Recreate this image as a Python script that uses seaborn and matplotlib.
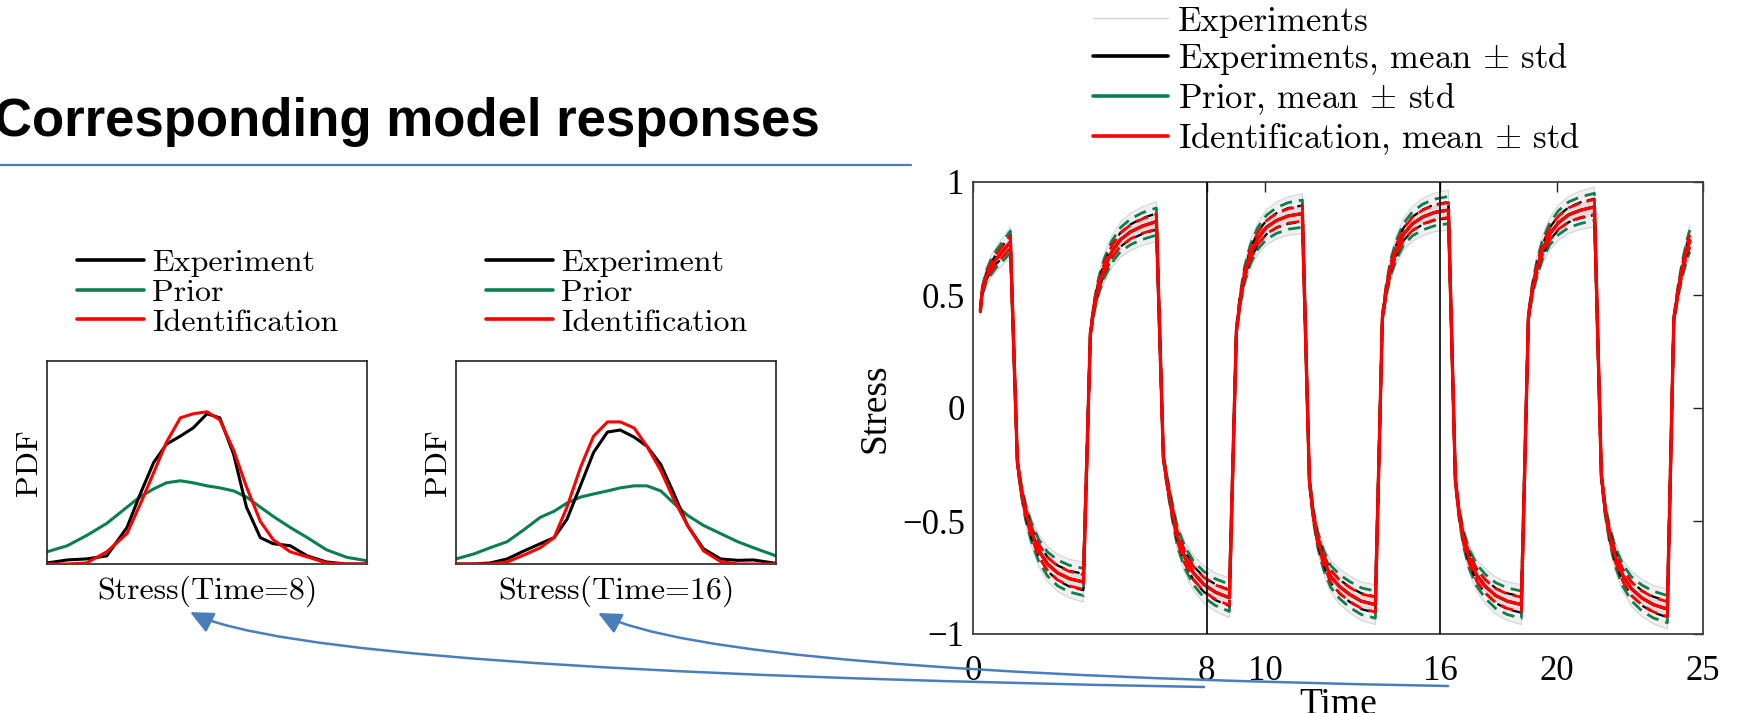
import numpy as np
import matplotlib
matplotlib.use("Agg")
import matplotlib.pyplot as plt
from matplotlib.lines import Line2D
import seaborn as sns

# ------------------------------------------------------------------
# Cyclic stress history: knots of the mean response (shared by the
# experiments, the prior and the identified model, which overlap).
# ------------------------------------------------------------------
time_pts = [
    0.25, 0.32, 0.45, 0.60, 0.80, 1.00, 1.28,
    1.52, 1.65, 1.80, 2.00, 2.25, 2.55, 2.90, 3.30, 3.78,
    4.02, 4.15, 4.30, 4.50, 4.75, 5.05, 5.40, 5.80, 6.28,
    6.52, 6.65, 6.80, 7.00, 7.25, 7.55, 7.90, 8.30, 8.78,
    9.02, 9.15, 9.30, 9.50, 9.75, 10.05, 10.40, 10.80, 11.28,
    11.52, 11.65, 11.80, 12.00, 12.25, 12.55, 12.90, 13.30, 13.78,
    14.02, 14.15, 14.30, 14.50, 14.75, 15.05, 15.40, 15.80, 16.28,
    16.52, 16.65, 16.80, 17.00, 17.25, 17.55, 17.90, 18.30, 18.78,
    19.02, 19.15, 19.30, 19.50, 19.75, 20.05, 20.40, 20.80, 21.28,
    21.52, 21.65, 21.80, 22.00, 22.25, 22.55, 22.90, 23.30, 23.78,
    24.00, 24.15, 24.30, 24.45, 24.55,
]
stress_mean = [
    0.43, 0.52, 0.58, 0.62, 0.66, 0.69, 0.735,
    -0.24, -0.36, -0.46, -0.55, -0.63, -0.69, -0.73, -0.755, -0.77,
    0.33, 0.45, 0.54, 0.62, 0.69, 0.745, 0.78, 0.805, 0.825,
    -0.22, -0.33, -0.44, -0.57, -0.66, -0.73, -0.78, -0.815, -0.84,
    0.34, 0.48, 0.59, 0.68, 0.75, 0.80, 0.83, 0.85, 0.86,
    -0.32, -0.47, -0.58, -0.67, -0.745, -0.79, -0.825, -0.855, -0.87,
    0.40, 0.52, 0.62, 0.70, 0.77, 0.815, 0.845, 0.865, 0.876,
    -0.32, -0.47, -0.58, -0.67, -0.74, -0.79, -0.83, -0.855, -0.87,
    0.40, 0.52, 0.61, 0.70, 0.77, 0.82, 0.855, 0.875, 0.89,
    -0.30, -0.45, -0.56, -0.66, -0.74, -0.80, -0.84, -0.87, -0.89,
    0.39, 0.52, 0.62, 0.70, 0.74,
]

# Standard deviations along one half-cycle (same knots in every half-cycle)
prior_std_init = [0.010, 0.018, 0.025, 0.032, 0.038, 0.043, 0.048]
prior_std_half = [0.015, 0.025, 0.034, 0.042, 0.048, 0.053, 0.057, 0.059, 0.060]
ident_std_init = [0.005, 0.010, 0.014, 0.018, 0.021, 0.024, 0.027]
ident_std_half = [0.008, 0.013, 0.018, 0.022, 0.026, 0.029, 0.031, 0.032, 0.033]
exp_std_init = [0.006, 0.011, 0.015, 0.019, 0.022, 0.025, 0.028]
exp_std_half = [0.009, 0.015, 0.020, 0.024, 0.028, 0.031, 0.033, 0.035, 0.036]
exp_range_init = [0.020, 0.030, 0.040, 0.048, 0.055, 0.060, 0.065]
exp_range_half = [0.025, 0.040, 0.052, 0.062, 0.070, 0.077, 0.082, 0.085, 0.088]
n_half_cycles = 9
n_last = 5

time_ticks = [0, 8, 10, 16, 20, 25]
time_tick_labels = ["0", "8", "10", "16", "20", "25"]
stress_ticks = [-1, -0.5, 0, 0.5, 1]
stress_tick_labels = ["\u22121", "\u22120.5", "0", "0.5", "1"]
snapshot_times = [8, 16]

# ------------------------------------------------------------------
# Stress distributions at the two snapshot times
# ------------------------------------------------------------------
stress_t8 = [-0.980, -0.961, -0.943, -0.924, -0.905, -0.893, -0.880, -0.868,
             -0.855, -0.843, -0.830, -0.818, -0.805, -0.793, -0.780, -0.768,
             -0.752, -0.736, -0.718, -0.699, -0.680]
pdf_exp_t8 = [0.005, 0.02, 0.025, 0.04, 0.18, 0.34, 0.50, 0.59, 0.63, 0.67,
              0.74, 0.72, 0.54, 0.28, 0.13, 0.10, 0.09, 0.04, 0.01, 0.0, 0.0]
pdf_prior_t8 = [0.06, 0.09, 0.14, 0.20, 0.28, 0.33, 0.37, 0.40, 0.41, 0.40,
                0.385, 0.375, 0.36, 0.33, 0.28, 0.235, 0.18, 0.13, 0.07, 0.033, 0.016]
pdf_ident_t8 = [0.0, 0.0, 0.005, 0.06, 0.15, 0.29, 0.45, 0.60, 0.72, 0.74,
                0.75, 0.71, 0.56, 0.38, 0.21, 0.12, 0.06, 0.035, 0.005, 0.0, 0.0]

stress_t16 = [0.720, 0.737, 0.752, 0.768, 0.784, 0.799, 0.812, 0.824, 0.837,
              0.849, 0.862, 0.874, 0.887, 0.899, 0.912, 0.924, 0.937, 0.952,
              0.968, 0.984, 0.999, 1.020]
pdf_exp_t16 = [0.0, 0.0, 0.005, 0.025, 0.065, 0.10, 0.13, 0.22, 0.39, 0.55, 0.65,
               0.66, 0.625, 0.58, 0.49, 0.35, 0.19, 0.075, 0.025, 0.018, 0.02, 0.003]
pdf_prior_t16 = [0.025, 0.05, 0.08, 0.11, 0.17, 0.23, 0.26, 0.30, 0.33, 0.345, 0.36,
                 0.375, 0.385, 0.385, 0.36, 0.30, 0.24, 0.19, 0.15, 0.11, 0.08, 0.04]
pdf_ident_t16 = [0.0, 0.0, 0.0, 0.01, 0.045, 0.08, 0.13, 0.28, 0.48, 0.63, 0.70,
                 0.70, 0.67, 0.58, 0.46, 0.32, 0.19, 0.065, 0.012, 0.0, 0.0, 0.0]

legend_main = ["Experiments", r"Experiments, mean $\pm$ std",
               r"Prior, mean $\pm$ std", r"Identification, mean $\pm$ std"]
legend_pdf = ["Experiment", "Prior", "Identification"]

# ------------------------------------------------------------------
# Style
# ------------------------------------------------------------------
GREEN = "#0c7f4f"
RED = "#ff0000"
BLUE = "#4a7ebb"
GREY = "#d4d4d4"
CM = "cmr10"
W, H = 1740, 713

sns.set_style("white")
plt.rcParams["font.family"] = ["Liberation Serif", "DejaVu Serif"]
plt.rcParams["mathtext.fontset"] = "cm"
plt.rcParams["axes.unicode_minus"] = True
plt.rcParams["text.color"] = "black"
plt.rcParams["axes.labelcolor"] = "black"
plt.rcParams["xtick.color"] = "black"
plt.rcParams["ytick.color"] = "black"


def fx(px):
    return px / W


def fy(py):
    return 1 - py / H


fig = plt.figure(figsize=(W / 100, H / 100), dpi=100)

# ------------------------------------------------------------------
# Main time-history axes
# ------------------------------------------------------------------
t = np.array(time_pts)
m = np.array(stress_mean)


def along(init, half):
    return np.array(init + half * n_half_cycles + half[:n_last])


s_prior = along(prior_std_init, prior_std_half)
s_ident = along(ident_std_init, ident_std_half)
s_exp = along(exp_std_init, exp_std_half)
s_range = along(exp_range_init, exp_range_half)

ax = fig.add_axes([fx(973), fy(634), (1703 - 973) / W, (634 - 182) / H])

ax.fill_between(t, m - s_range, m + s_range, color="#f0f0f0", lw=0, zorder=1)
ax.fill_between(t, m - s_exp, m + s_exp, color="#dedede", lw=0, zorder=1)
for sgn in (-1, 1):
    sns.lineplot(x=t, y=m + sgn * s_range, ax=ax, color=GREY, lw=0.8,
                 sort=False, estimator=None, zorder=1)

dash = (0, (4.5, 2.5))
for sgn in (-1, 1):
    sns.lineplot(x=t, y=m + sgn * s_prior, ax=ax, color=GREEN, lw=2.0,
                 linestyle=dash, sort=False, estimator=None, zorder=2)
sns.lineplot(x=t, y=m, ax=ax, color=GREEN, lw=2.0, sort=False, estimator=None, zorder=2)
for sgn in (-1, 1):
    sns.lineplot(x=t, y=m + sgn * s_exp, ax=ax, color="black", lw=1.6,
                 linestyle=dash, sort=False, estimator=None, zorder=3)
sns.lineplot(x=t, y=m, ax=ax, color="black", lw=2.0, sort=False, estimator=None, zorder=3)
for sgn in (-1, 1):
    sns.lineplot(x=t, y=m + sgn * s_ident, ax=ax, color=RED, lw=2.0,
                 linestyle=dash, sort=False, estimator=None, zorder=4)
sns.lineplot(x=t, y=m, ax=ax, color=RED, lw=2.4, sort=False, estimator=None, zorder=5)

for ts in snapshot_times:
    ax.axvline(ts, color="black", lw=1.2, zorder=6)

ax.set_xlim(0, 25)
ax.set_ylim(-1, 1)
ax.set_xticks(time_ticks)
ax.set_xticklabels(time_tick_labels)
ax.set_yticks(stress_ticks)
ax.set_yticklabels(stress_tick_labels)
ax.tick_params(direction="in", length=7, width=1, top=True, right=True,
               labelsize=25, colors="#222222", labelcolor="black")
ax.tick_params(axis="x", pad=15)
ax.tick_params(axis="y", pad=6)
for sp in ax.spines.values():
    sp.set_color("#404040")
    sp.set_linewidth(1.3)
    sp.set_visible(True)
ax.set_xlabel("Time", fontsize=27, labelpad=0)
ax.set_ylabel("Stress", fontsize=27, labelpad=7)

main_handles = [
    Line2D([], [], color=GREY, lw=1.0),
    Line2D([], [], color="black", lw=2.6),
    Line2D([], [], color=GREEN, lw=2.6),
    Line2D([], [], color=RED, lw=2.6),
]
fig.legend(main_handles, legend_main, loc="upper left",
           bbox_to_anchor=(fx(1093), fy(6)), bbox_transform=fig.transFigure,
           frameon=False, prop={"family": CM, "size": 25},
           handlelength=2.15, handletextpad=0.3, labelspacing=0.08,
           borderpad=0, borderaxespad=0)

# ------------------------------------------------------------------
# PDF panels
# ------------------------------------------------------------------
panels = [
    (47, stress_t8, pdf_exp_t8, pdf_prior_t8, pdf_ident_t8, "Stress(Time=8)", 77),
    (456, stress_t16, pdf_exp_t16, pdf_prior_t16, pdf_ident_t16, "Stress(Time=16)", 486),
]
for left, xs, p_exp, p_prior, p_ident, lab, leg_x in panels:
    pax = fig.add_axes([fx(left), fy(564), 320 / W, (564 - 361) / H])
    sns.lineplot(x=xs, y=p_prior, ax=pax, color=GREEN, lw=2.2, sort=False,
                 estimator=None, zorder=2)
    sns.lineplot(x=xs, y=p_exp, ax=pax, color="black", lw=2.2, sort=False,
                 estimator=None, zorder=3)
    sns.lineplot(x=xs, y=p_ident, ax=pax, color=RED, lw=2.2, sort=False,
                 estimator=None, zorder=4)
    pax.set_xlim(xs[0], xs[-1])
    pax.set_ylim(0, 1)
    pax.set_xticks([])
    pax.set_yticks([])
    for sp in pax.spines.values():
        sp.set_color("#222222")
        sp.set_linewidth(1.2)
        sp.set_visible(True)
    pax.set_xlabel(lab, fontfamily=CM, fontsize=23, labelpad=8)
    pax.set_ylabel("PDF", fontfamily=CM, fontsize=23, labelpad=3)
    handles = [Line2D([], [], color="black", lw=2.6),
               Line2D([], [], color=GREEN, lw=2.6),
               Line2D([], [], color=RED, lw=2.6)]
    pax.legend(handles, legend_pdf, loc="upper left",
               bbox_to_anchor=(fx(leg_x), fy(249)), bbox_transform=fig.transFigure,
               frameon=False, prop={"family": CM, "size": 23},
               handlelength=2.1, handletextpad=0.25, labelspacing=0.04,
               borderpad=0, borderaxespad=0)

# ------------------------------------------------------------------
# Slide title, rule and pointer arrows (pixel overlay)
# ------------------------------------------------------------------
ov = fig.add_axes([0, 0, 1, 1])
ov.set_xlim(0, W)
ov.set_ylim(H, 0)
ov.axis("off")
ov.text(-6, 136, "Corresponding model responses", fontsize=38, color="black",
        fontweight="bold", family="Liberation Sans", ha="left", va="baseline")
ov.plot([0, 911], [165, 165], color=BLUE, lw=1.6)
arrow_kw = dict(arrowstyle="-|>,head_length=1.4,head_width=0.65", color=BLUE,
                lw=1.8, shrinkA=0, shrinkB=0)
ov.annotate("", xy=(190, 612), xytext=(1204, 687),
            arrowprops=dict(connectionstyle="angle3,angleA=-1,angleB=-27", **arrow_kw))
ov.annotate("", xy=(598, 613), xytext=(1448, 686),
            arrowprops=dict(connectionstyle="angle3,angleA=-1,angleB=-27", **arrow_kw))

fig.savefig("out.png", dpi=100)
